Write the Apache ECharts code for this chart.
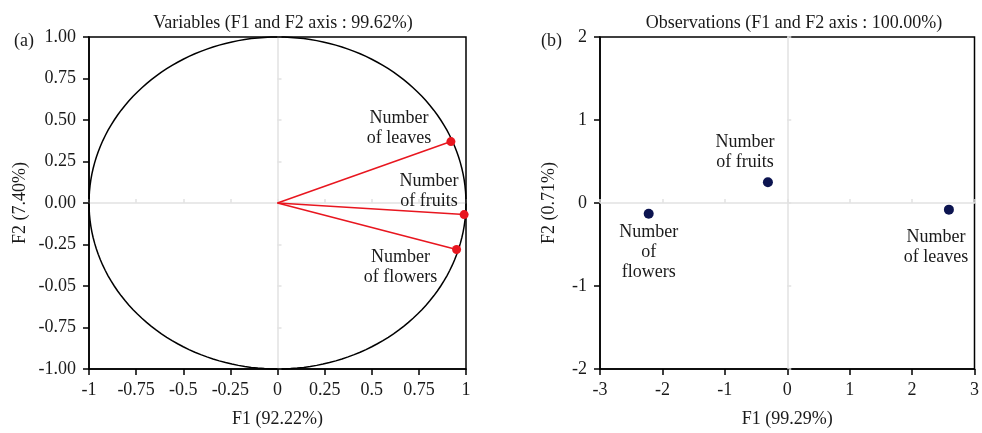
<!DOCTYPE html>
<html>
<head>
<meta charset="utf-8">
<title>PCA biplots</title>
<script src="https://cdn.jsdelivr.net/npm/echarts@6/dist/echarts.min.js"></script>
<style>
  html, body { margin: 0; padding: 0; background: #fff; }
  #chart { width: 982px; height: 433px; }
</style>
</head>
<body>
<div id="chart"></div>
<script>
/* =========================================
   1. DATA
   ========================================= */
// (a) variables : correlation with F1 / F2
const varLabels = ["Number\nof leaves", "Number\nof fruits", "Number\nof flowers"];
const varF1 = [0.92, 0.99, 0.95];
const varF2 = [0.37, -0.07, -0.28];

// (b) observations : factor scores
const obsLabels = ["Number\nof leaves", "Number\nof fruits", "Number\nof\nflowers"];
const obsF1 = [2.59, -0.31, -2.22];
const obsF2 = [-0.08, 0.25, -0.13];

// tick labels as printed (the -0.05 typo is in the original)
const varXTicks = ["-1", "-0.75", "-0.5", "-0.25", "0", "0.25", "0.5", "0.75", "1"];
const varYTicks = ["-1.00", "-0.75", "-0.05", "-0.25", "0.00", "0.25", "0.50", "0.75", "1.00"];
const obsXTicks = ["-3", "-2", "-1", "0", "1", "2", "3"];
const obsYTicks = ["-2", "-1", "0", "1", "2"];

/* =========================================
   2. HELPERS
   ========================================= */
const FONT = "Liberation Serif";
const FS = 18;
const TXT = "#1a1a1a";

function tickFormatter(labels, min, step) {
  return (v) => {
    const i = Math.round((v - min) / step);
    return labels[i] !== undefined ? labels[i] : "";
  };
}

function mainAxis(gridIndex, min, max, step, labels, name, nameGap, isY) {
  return {
    type: "value",
    gridIndex: gridIndex,
    min: min,
    max: max,
    interval: step,
    name: name,
    nameLocation: "middle",
    nameGap: nameGap,
    nameTextStyle: { fontFamily: FONT, fontSize: FS, color: TXT },
    axisLine: { show: true, onZero: false, lineStyle: { color: "#000", width: 1.5 } },
    axisTick: { show: true, length: 6, lineStyle: { color: "#000", width: 1.5 } },
    axisLabel: {
      fontFamily: FONT, fontSize: FS, color: TXT,
      margin: isY ? 13 : 12,
      formatter: tickFormatter(labels, min, step),
    },
    splitLine: { show: false },
  };
}

// light grey line through zero with small ticks
function zeroAxis(gridIndex, min, max, step) {
  return {
    type: "value",
    gridIndex: gridIndex,
    min: min,
    max: max,
    interval: step,
    axisLine: { show: true, onZero: true, lineStyle: { color: "#e2e2e2", width: 1.5 } },
    axisTick: { show: true, length: 4, lineStyle: { color: "#e2e2e2", width: 1.5 } },
    axisLabel: { show: false },
    splitLine: { show: false },
    z: 0,
  };
}

/* =========================================
   3. CHART
   ========================================= */
function initChart() {
  const chart = echarts.init(document.getElementById("chart"), null, { renderer: "canvas" });

  const varPoints = varF1.map((x, i) => [x, varF2[i], varLabels[i]]);
  const obsPoints = obsF1.map((x, i) => [x, obsF2[i], obsLabels[i]]);

  // label placement per point
  const varLabelCfg = [
    { position: "top", offset: [-52, 16] },
    { position: "top", offset: [-35, 6] },
    { position: "top", offset: [-56, 47] },
  ];
  const obsLabelCfg = [
    { position: "bottom", offset: [-13, 8] },
    { position: "top", offset: [-23, 0] },
    { position: "bottom", offset: [0, -2] },
  ];

  const labelStyle = {
    show: true,
    fontFamily: FONT,
    fontSize: FS,
    lineHeight: 20,
    color: TXT,
    align: "center",
    formatter: (p) => p.data.value[2],
  };

  const titleStyle = { fontFamily: FONT, fontSize: FS, fontWeight: "normal", color: TXT };

  const option = {
    backgroundColor: "#fff",
    animation: false,
    title: [
      { text: "Variables (F1 and F2 axis : 99.62%)", left: 278, top: 9, textAlign: "center", textStyle: titleStyle },
      { text: "Observations (F1 and F2 axis : 100.00%)", left: 789, top: 9, textAlign: "center", textStyle: titleStyle },
      { text: "(a)", left: 9, top: 27, textStyle: titleStyle },
      { text: "(b)", left: 536, top: 27, textStyle: titleStyle },
    ],
    grid: [
      { left: 89, top: 37, width: 377, height: 334, show: true, borderColor: "#000", borderWidth: 1.5 },
      { left: 600, top: 37, width: 377, height: 334, show: true, borderColor: "#000", borderWidth: 1.5 },
    ],
    xAxis: [
      mainAxis(0, -1, 1, 0.25, varXTicks, "F1 (92.22%)", 41, false),
      mainAxis(1, -3, 3, 1, obsXTicks, "F1 (99.29%)", 41, false),
      zeroAxis(0, -1, 1, 0.25),
      zeroAxis(1, -3, 3, 1),
    ],
    yAxis: [
      mainAxis(0, -1, 1, 0.25, varYTicks, "F2 (7.40%)", 60, true),
      mainAxis(1, -2, 2, 1, obsYTicks, "F2 (0.71%)", 42, true),
      zeroAxis(0, -1, 1, 0.25),
      zeroAxis(1, -2, 2, 1),
    ],
    series: [
      // correlation circle
      {
        type: "custom",
        xAxisIndex: 0,
        yAxisIndex: 0,
        data: [[0, 0]],
        silent: true,
        z: 3,
        renderItem: (params, api) => {
          const pts = [];
          for (let a = 0; a <= 360; a += 2) {
            const t = (a * Math.PI) / 180;
            pts.push(api.coord([Math.cos(t), Math.sin(t)]));
          }
          return {
            type: "polyline",
            shape: { points: pts },
            style: { stroke: "#000", lineWidth: 1.5, fill: null },
          };
        },
      },
      // vectors from origin
      {
        type: "custom",
        xAxisIndex: 0,
        yAxisIndex: 0,
        data: varPoints,
        silent: true,
        z: 4,
        renderItem: (params, api) => {
          const o = api.coord([0, 0]);
          const p = api.coord([api.value(0), api.value(1)]);
          return {
            type: "line",
            shape: { x1: o[0], y1: o[1], x2: p[0], y2: p[1] },
            style: { stroke: "#e8161f", lineWidth: 1.5 },
          };
        },
      },
      {
        type: "scatter",
        xAxisIndex: 0,
        yAxisIndex: 0,
        symbolSize: 9,
        itemStyle: { color: "#e8161f", opacity: 1 },
        z: 5,
        data: varPoints.map((v, i) => ({
          value: v,
          label: Object.assign({}, labelStyle, varLabelCfg[i]),
        })),
      },
      {
        type: "scatter",
        xAxisIndex: 1,
        yAxisIndex: 1,
        symbolSize: 10,
        itemStyle: { color: "#0c1450", opacity: 1 },
        z: 5,
        data: obsPoints.map((v, i) => ({
          value: v,
          label: Object.assign({}, labelStyle, obsLabelCfg[i]),
        })),
      },
    ],
  };

  chart.setOption(option);
  window.addEventListener("resize", () => chart.resize());
}

document.addEventListener("DOMContentLoaded", initChart);
</script>
</body>
</html>
